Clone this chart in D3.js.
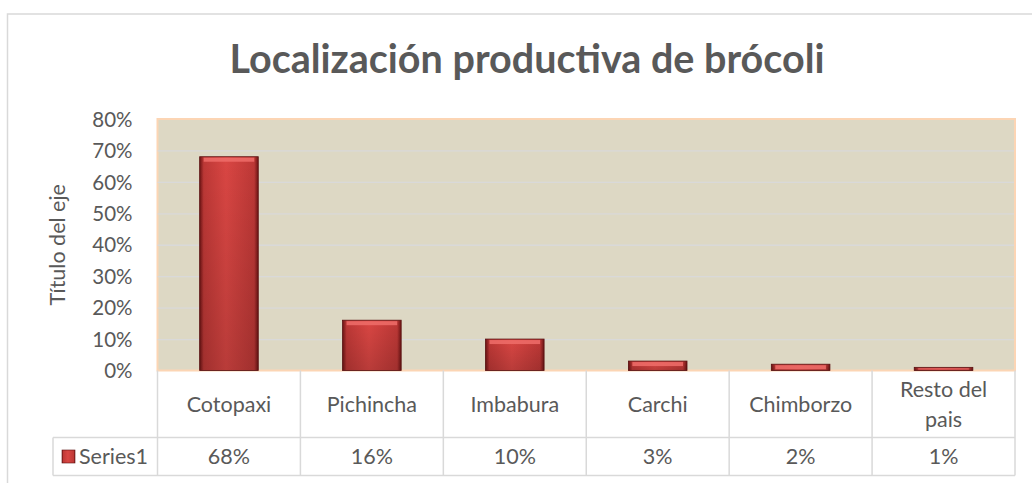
<!DOCTYPE html>
<html lang="es">
<head>
<meta charset="UTF-8">
<title>Localización productiva de brócoli</title>
<script src="https://cdn.jsdelivr.net/npm/d3@7"></script>
<style>
    body { margin: 0; background: #fff; }
    text { font-family: Lato, "Open Sans", sans-serif; fill: #595959; }
    .yAxis path, .yAxis line { stroke-width: 0; }
    .yAxis text { font-size: 20.5px; }
    .grid line { stroke: #d9d9d9; stroke-width: 1.3px; }
    .grid path { stroke-width: 0; }
</style>
</head>
<body>
<div id="chart"></div>
<script>
    // data
    const categories = ["Cotopaxi", "Pichincha", "Imbabura", "Carchi", "Chimborzo", "Resto del pais"];
    const values = [0.68, 0.16, 0.10, 0.03, 0.02, 0.01];
    const valueLabels = ["68%", "16%", "10%", "3%", "2%", "1%"];
    const yTicks = [0, 0.1, 0.2, 0.3, 0.4, 0.5, 0.6, 0.7, 0.8];
    const seriesName = "Series1";

    const W = 1032, H = 483;
    const plot = { left: 157.5, right: 1015, top: 119, bottom: 370.5 };
    const rowH = [67, 38];
    const fs = "21.5px";

    const svg = d3.select("#chart").append("svg")
        .attr("width", W).attr("height", H);

    const defs = svg.append("defs");
    const grad = defs.append("linearGradient").attr("id", "barGrad")
        .attr("x1", 0).attr("x2", 1).attr("y1", 0).attr("y2", 0);
    grad.append("stop").attr("offset", "0%").attr("stop-color", "#6e1414");
    grad.append("stop").attr("offset", "7%").attr("stop-color", "#bd3836");
    grad.append("stop").attr("offset", "45%").attr("stop-color", "#d94643");
    grad.append("stop").attr("offset", "93%").attr("stop-color", "#bd3836");
    grad.append("stop").attr("offset", "100%").attr("stop-color", "#6e1414");
    const vgrad = defs.append("linearGradient").attr("id", "barShade")
        .attr("x1", 0).attr("x2", 0).attr("y1", 0).attr("y2", 1);
    vgrad.append("stop").attr("offset", "0%").attr("stop-color", "#000").attr("stop-opacity", 0);
    vgrad.append("stop").attr("offset", "100%").attr("stop-color", "#000").attr("stop-opacity", 0.15);

    // outer chart border
    svg.append("rect")
        .attr("x", 7.5).attr("y", 14).attr("width", W).attr("height", H)
        .attr("fill", "#fff").attr("stroke", "#d9d9d9").attr("stroke-width", 1.5);

    // title
    svg.append("text")
        .attr("x", 527).attr("y", 73)
        .attr("text-anchor", "middle")
        .style("font-size", "39.5px").style("font-weight", "bold")
        .text("Localización productiva de brócoli");

    const x = d3.scaleBand().domain(categories).range([plot.left, plot.right]);
    const y = d3.scaleLinear().domain([0, 0.8]).range([plot.bottom, plot.top]);

    // plot area
    svg.append("rect")
        .attr("x", plot.left).attr("y", plot.top)
        .attr("width", plot.right - plot.left).attr("height", plot.bottom - plot.top)
        .attr("fill", "#ddd8c4").attr("stroke", "#fcd5b4").attr("stroke-width", 2);

    svg.append("g").attr("class", "grid")
        .attr("transform", `translate(${plot.left},0)`)
        .call(d3.axisLeft(y).tickValues(yTicks.slice(1, -1))
            .tickSize(-(plot.right - plot.left - 1)).tickFormat(""));

    svg.append("g").attr("class", "yAxis")
        .attr("transform", `translate(${plot.left - 22},0)`)
        .call(d3.axisLeft(y).tickValues(yTicks).tickSize(0).tickFormat(d3.format(".0%")))
        .selectAll("text").attr("dy", "0.35em");

    svg.append("text")
        .attr("transform", `translate(65,${(plot.top + plot.bottom) / 2}) rotate(-90)`)
        .attr("text-anchor", "middle")
        .style("font-size", fs)
        .text("Título del eje");

    // bars
    const bw = x.bandwidth() * 0.41;
    const bx = (d, i) => x(categories[i]) + (x.bandwidth() - bw) / 2;
    const bars = svg.append("g").selectAll("g").data(values).enter().append("g");
    bars.append("rect")
        .attr("x", bx).attr("y", d => y(d))
        .attr("width", bw).attr("height", d => y(0) - y(d))
        .attr("fill", "url(#barGrad)")
        .attr("stroke", "#5a1010").attr("stroke-width", 0.8);
    bars.append("rect")
        .attr("x", bx).attr("y", d => y(d))
        .attr("width", bw).attr("height", d => y(0) - y(d))
        .attr("fill", "url(#barShade)");
    // bevel highlight on top
    bars.append("rect")
        .attr("x", (d, i) => bx(d, i) + 4)
        .attr("y", d => y(d) + 1)
        .attr("width", bw - 8)
        .attr("height", d => Math.min(4, Math.max(0, y(0) - y(d) - 2)))
        .attr("fill", "#ee6d6a").attr("opacity", 0.85);

    // data table
    const tbl = svg.append("g").attr("fill", "none").attr("stroke", "#d9d9d9").attr("stroke-width", 1.5);
    const r1 = plot.bottom, r2 = r1 + rowH[0], r3 = r2 + rowH[1];
    const legendLeft = 53;
    tbl.append("line").attr("x1", legendLeft).attr("x2", plot.right).attr("y1", r2).attr("y2", r2);
    tbl.append("line").attr("x1", legendLeft).attr("x2", plot.right).attr("y1", r3).attr("y2", r3);
    tbl.append("line").attr("x1", legendLeft).attr("x2", legendLeft).attr("y1", r2).attr("y2", r3);
    tbl.selectAll("line.v").data(categories.concat(["end"])).enter().append("line")
        .attr("class", "v")
        .attr("x1", (d, i) => i < categories.length ? x(d) : plot.right)
        .attr("x2", (d, i) => i < categories.length ? x(d) : plot.right)
        .attr("y1", r1).attr("y2", r3);

    const catText = svg.append("g").selectAll("text").data(categories).enter().append("text")
        .attr("text-anchor", "middle")
        .style("font-size", fs);
    catText.each(function (d) {
        const words = d === "Resto del pais" ? ["Resto del", "pais"] : [d];
        const t = d3.select(this);
        const cy = (r1 + r2) / 2;
        words.forEach((w, k) => {
            t.append("tspan")
                .attr("x", x(d) + x.bandwidth() / 2)
                .attr("y", cy + 7.5 + (k - (words.length - 1) / 2) * 30)
                .text(w);
        });
    });

    svg.append("g").selectAll("text").data(valueLabels).enter().append("text")
        .attr("x", (d, i) => x(categories[i]) + x.bandwidth() / 2)
        .attr("y", (r2 + r3) / 2 + 7.5)
        .attr("text-anchor", "middle")
        .style("font-size", fs)
        .text(d => d);

    // legend key
    svg.append("rect")
        .attr("x", 62).attr("y", (r2 + r3) / 2 - 6.5).attr("width", 13).attr("height", 13)
        .attr("fill", "url(#barGrad)").attr("stroke", "#5a1010").attr("stroke-width", 0.6);
    svg.append("text")
        .attr("x", 79).attr("y", (r2 + r3) / 2 + 7.5)
        .style("font-size", fs)
        .text(seriesName);
</script>
</body>
</html>
